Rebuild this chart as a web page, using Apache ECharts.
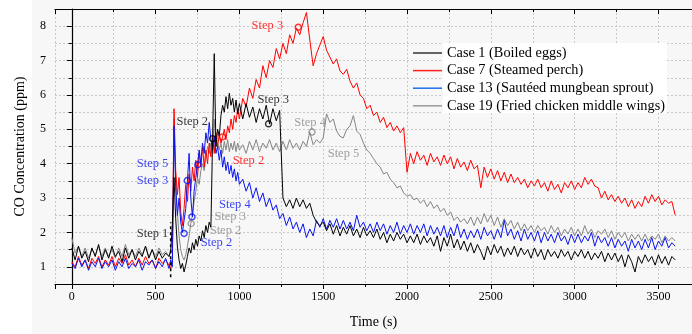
<!DOCTYPE html>
<html>
<head>
<meta charset="utf-8">
<script src="https://cdn.jsdelivr.net/npm/echarts@6/dist/echarts.min.js"></script>
<style>html,body{margin:0;padding:0;background:#fff}#c{width:692px;height:334px}</style>
</head>
<body>
<div id="c"></div>
<script>
// ---- data (time in s, CO in ppm) ----
const timeSec = [
0,20,40,60,80,100,120,140,160,180,
200,220,240,260,280,300,320,340,360,380,
400,420,440,460,480,500,520,540,560,
580,590,600,610,620,630,640,650,660,670,
680,690,700,710,720,730,740,750,760,770,
780,790,800,810,820,830,840,850,860,870,
880,890,900,910,920,930,940,950,960,970,
980,990,1000,
1020,1040,1060,1080,1100,1120,1140,1160,1180,1200,
1220,1240,1260,1280,1300,1320,1340,1360,1380,1400,
1420,1440,1460,1480,1500,1520,1540,1560,1580,1600,
1620,1640,1660,1680,1700,1720,1740,1760,1780,1800,
1820,1840,1860,1880,1900,1920,1940,1960,1980,2000,
2020,2040,2060,2080,2100,2120,2140,2160,2180,2200,
2220,2240,2260,2280,2300,2320,2340,2360,2380,2400,
2420,2440,2460,2480,2500,2520,2540,2560,2580,2600,
2620,2640,2660,2680,2700,2720,2740,2760,2780,2800,
2820,2840,2860,2880,2900,2920,2940,2960,2980,3000,
3020,3040,3060,3080,3100,3120,3140,3160,3180,3200,
3220,3240,3260,3280,3300,3320,3340,3360,3380,3400,
3420,3440,3460,3480,3500,3520,3540,3560,3580,3600
];

const case1Boiled = [
1.55,1.2,1.6,1.25,1.45,1.15,1.55,1.3,1.65,1.2,
1.5,1.25,1.6,1.3,1.45,1.15,1.55,1.25,1.5,1.2,
1.45,1.3,1.6,1.25,1.5,1.2,1.45,1.25,1.4,
1.3,1.45,2.2,3.6,2.4,1.6,1.2,0.95,1.1,0.85,
1.05,1.3,1.55,1.4,1.7,1.5,1.8,1.6,1.9,1.75,
2.05,1.85,2.2,2.0,2.3,2.15,4.7,7.2,4.5,5.0,
4.8,5.4,5.7,5.5,5.95,5.6,6.05,5.7,5.9,5.5,
5.85,5.45,5.75,
5.3,5.75,5.35,5.65,5.2,5.6,5.3,5.7,5.15,5.6,
5.25,5.55,3.0,2.75,2.95,2.7,3.0,2.75,2.95,2.7,
2.85,2.5,2.3,2.2,2.3,2.05,2.25,1.95,2.2,1.9,
2.15,1.95,2.2,1.9,2.1,1.85,2.15,1.9,2.05,1.85,
2.1,1.8,2.0,1.7,1.95,1.75,2.0,1.8,1.95,1.7,
1.9,1.7,1.95,1.65,1.9,1.7,1.85,1.6,1.9,1.45,
1.85,1.6,1.95,1.55,1.8,1.5,1.75,1.45,1.7,1.4,
1.65,1.45,1.2,1.6,1.35,1.65,1.4,1.6,1.3,1.55,
1.35,1.6,1.3,1.55,1.35,1.5,1.25,1.55,1.3,1.5,
1.2,1.5,1.3,1.45,1.25,1.5,1.3,1.45,1.2,1.45,
1.3,1.5,1.25,1.45,1.2,1.4,1.25,1.45,1.15,1.4,
1.2,1.4,1.15,1.35,1.0,1.35,1.15,0.85,1.3,1.1,
1.35,1.15,1.3,1.05,1.35,1.1,1.3,1.05,1.3,1.2
];

const case7Perch = [
1.15,1.0,1.3,1.05,1.2,0.95,1.25,1.1,1.3,1.0,
1.2,1.05,1.3,1.0,1.25,1.1,1.35,1.05,1.2,1.0,
1.25,1.05,1.3,1.1,1.2,0.95,1.25,1.1,1.2,
1.05,0.95,1.2,5.6,3.8,3.1,3.6,2.6,2.2,2.7,
3.4,2.9,3.7,3.2,3.9,3.5,4.1,3.6,4.3,3.9,
4.5,3.9,4.4,4.0,4.6,4.2,4.8,4.3,4.9,4.5,
4.85,4.6,4.78,5.0,4.7,5.1,4.9,5.3,5.0,5.4,
5.2,5.6,5.3,
5.9,5.65,6.2,5.9,6.45,6.2,6.85,6.5,7.0,6.8,
7.35,7.05,7.5,7.2,7.75,7.5,7.95,7.75,8.1,8.4,
7.6,6.85,7.2,7.45,7.7,7.3,7.1,6.9,7.05,6.7,
6.6,6.75,6.4,6.2,6.35,6.0,5.9,5.6,5.7,5.4,
5.5,5.2,5.35,5.05,5.2,4.95,5.1,4.9,5.05,3.75,
4.3,4.0,4.35,4.1,4.25,3.95,4.3,4.05,4.2,3.95,
4.25,4.0,4.2,3.85,4.15,3.9,4.05,3.8,4.1,3.85,
3.95,3.3,3.9,3.6,3.85,3.55,3.8,3.5,3.75,3.45,
3.7,3.45,3.6,3.4,3.55,3.3,3.5,3.35,3.55,3.3,
3.45,3.2,3.5,3.25,3.4,3.15,3.45,3.3,3.5,3.25,
3.45,3.3,3.6,3.4,3.55,3.35,3.3,3.0,3.2,2.95,
3.1,2.9,3.05,2.85,3.0,2.75,2.95,2.7,2.9,2.75,
3.05,2.85,3.1,2.9,3.05,2.8,2.95,2.85,2.9,2.5
];

const case13Mungbean = [
1.1,0.95,1.25,1.0,1.2,0.9,1.15,1.0,1.25,0.95,
1.15,1.0,1.2,0.9,1.15,1.0,1.25,0.95,1.1,1.0,
1.2,0.9,1.15,1.05,1.2,0.95,1.15,1.0,1.25,
0.95,1.2,1.0,5.1,3.3,2.5,3.0,2.3,2.0,1.97,
2.7,3.5,4.3,3.0,2.45,3.2,3.6,3.97,4.4,4.0,
4.6,4.3,4.9,4.6,5.2,4.7,4.4,4.8,4.3,4.5,
4.1,4.4,3.9,4.2,3.8,4.05,3.7,3.95,3.6,3.85,
3.5,3.75,3.4,
3.55,3.2,3.45,3.0,3.3,2.9,3.15,2.75,3.0,2.65,
2.8,2.4,2.55,2.2,2.45,2.1,2.3,2.0,2.25,1.85,
2.1,1.9,2.35,2.15,2.4,2.1,2.35,2.15,2.4,2.1,
2.35,2.1,2.3,2.05,2.5,2.15,2.3,2.05,2.25,2.0,
2.3,2.05,2.25,1.95,2.2,2.0,2.3,1.95,2.2,2.0,
2.25,1.95,2.2,2.0,2.25,1.9,2.2,1.95,2.15,1.9,
2.2,1.85,2.15,1.9,2.25,1.85,2.1,1.8,2.05,1.85,
2.1,1.8,2.15,1.9,2.05,1.8,2.1,1.85,2.35,1.9,
2.1,1.8,2.05,1.75,2.1,1.8,2.0,1.75,2.05,1.7,
2.0,1.75,1.95,1.7,2.0,1.75,1.9,1.65,1.95,1.7,
1.95,1.7,1.9,1.75,2.0,1.6,1.9,1.7,1.85,1.6,
1.85,1.55,1.8,1.6,1.75,1.45,1.8,1.55,1.75,1.5,
1.8,1.55,1.85,1.5,1.75,1.6,1.85,1.55,1.7,1.6
];

const case19Wings = [
1.85,1.4,1.6,1.3,1.55,1.25,1.5,1.35,1.6,1.3,
1.55,1.3,1.5,1.25,1.55,1.3,1.65,1.35,1.5,1.3,
1.55,1.35,1.6,1.3,1.5,1.3,1.55,1.35,1.45,
1.3,1.5,1.4,5.3,3.5,2.6,1.9,1.5,1.3,1.2,
1.35,1.6,1.9,2.26,2.5,2.9,3.2,3.6,3.4,3.8,
4.0,3.8,4.2,4.5,4.3,4.6,4.4,5.3,4.5,4.6,
4.4,4.6,4.3,4.65,4.4,4.7,4.35,4.6,4.4,4.65,
4.35,4.6,4.4,
4.55,4.3,4.65,4.4,4.7,4.35,4.6,4.45,4.7,4.4,
4.6,4.35,4.65,4.4,4.7,4.45,4.6,4.4,4.65,4.5,
4.92,4.55,4.7,4.6,4.75,5.45,5.2,5.3,4.95,4.8,
4.75,5.0,5.1,5.4,4.95,4.85,4.6,4.4,4.3,4.15,
4.0,3.9,3.7,3.75,3.55,3.45,3.3,3.35,3.15,3.05,
3.1,2.95,3.0,2.85,2.95,2.75,2.9,2.7,2.8,2.6,
2.7,2.5,2.6,2.35,2.45,2.3,2.4,2.25,2.45,2.2,
2.45,2.25,2.55,2.3,2.5,2.2,2.45,2.15,2.4,2.2,
2.35,2.1,2.3,2.05,2.25,2.05,2.2,2.0,2.2,2.05,
2.15,1.95,2.2,2.0,2.15,1.9,2.1,1.95,2.15,1.9,
2.1,1.9,2.2,1.95,2.1,1.85,2.05,1.95,2.1,1.85,
2.05,1.8,2.0,1.85,2.0,1.75,1.95,1.8,1.95,1.75,
1.95,1.75,1.9,1.8,1.95,1.7,1.9,1.75,1.85,1.75
];

const seriesNames = ['Case 1 (Boiled eggs)', 'Case 7 (Steamed perch)', 'Case 13 (Sautéed mungbean sprout)', 'Case 19 (Fried chicken middle wings)'];

// step markers (time, ppm)
const stepMarkCase1 = [[840, 4.73], [1174, 5.16]];
const stepMarkCase7 = [[899, 4.78], [1351, 7.97]];
const stepMarkCase13 = [[670, 1.97], [689, 3.51], [717, 2.45], [752, 3.97]];
const stepMarkCase19 = [[712, 2.26], [1433, 4.92]];
const step1LineCase1 = [[590, 0.7], [590, 2.3]];

// step annotations (time, ppm, text)
const stepTextCase1 = [[482, 1.97, 'Step 1'], [719, 5.21, 'Step 2'], [1202, 5.86, 'Step 3']];
const stepTextCase7 = [[1167, 8.0, 'Step 3'], [1054, 4.09, 'Step 2']];
const stepTextCase13 = [[482, 3.99, 'Step 5'], [482, 3.51, 'Step 3'], [973, 2.81, 'Step 4'], [863, 1.69, 'Step 2']];
const stepTextCase19 = [[945, 2.47, 'Step 3'], [917, 2.04, 'Step 2'], [1422, 5.18, 'Step 4'], [1621, 4.3, 'Step 5']];

// ---- chart ----
const FONT = 'Liberation Serif';
const colors = ['#000000', '#ff0000', '#0a14f0', '#858585'];
const legendColors = ['#333333', '#ff2020', '#1a70f0', '#9a9a9a'];
const zs = [6, 4, 5, 3];
const vals = [case1Boiled, case7Perch, case13Mungbean, case19Wings];
const marks = [stepMarkCase1, stepMarkCase7, stepMarkCase13, stepMarkCase19];
const texts = [stepTextCase1, stepTextCase7, stepTextCase13, stepTextCase19];

const pair = v => timeSec.map((t, i) => [t, v[i]]);

const series = [];
vals.forEach((v, k) => {
  series.push({
    name: seriesNames[k], type: 'line', data: pair(v), showSymbol: false, symbol: 'none',
    sampling: null, z: zs[k], color: legendColors[k],
    lineStyle: { color: colors[k], width: 1 }
  });
});
series.push({
  type: 'line', data: step1LineCase1, showSymbol: false, symbol: 'none', z: 6,
  lineStyle: { color: '#000', width: 1.5, type: [3, 3] }
});
marks.forEach((m, k) => {
  series.push({
    type: 'scatter', data: m, symbol: 'circle', symbolSize: 6, z: 7,
    itemStyle: { color: 'rgba(0,0,0,0)', borderColor: colors[k], borderWidth: 1.4 }
  });
});
texts.forEach((tx, k) => {
  series.push({
    type: 'scatter', data: tx, symbolSize: 0, z: 8,
    label: { show: true, position: 'inside', formatter: p => p.value[2],
      color: colors[k] === '#858585' ? '#8a8a8a' : colors[k], fontFamily: FONT, fontSize: 12.5 }
  });
});

const gridLine = { show: true, lineStyle: { color: '#c9c9c9', type: [2, 2], width: 1 } };
const axisLineStyle = { show: true, lineStyle: { color: '#000', width: 1.2 } };

const chart = echarts.init(document.getElementById('c'), null, { renderer: 'canvas' });
chart.setOption({
  animation: false,
  backgroundColor: '#ffffff',
  graphic: [
    { type: 'rect', z: -10, silent: true, shape: { x: 32, y: 0, width: 660, height: 334 }, style: { fill: '#f7f7f7' } },
    { type: 'rect', z: 3, silent: true, shape: { x: 443, y: 43, width: 224, height: 70 }, style: { fill: '#ffffff' } }
  ],
  grid: { left: 55, top: 9, width: 645.4, height: 281, containLabel: false },
  legend: {
    data: seriesNames, orient: 'vertical', left: 413, top: 46, padding: 0,
    icon: 'rect', itemWidth: 29, itemHeight: 1.5, itemGap: 3.6, z: 4,
    textStyle: { fontFamily: FONT, fontSize: 14.3, color: '#000' }
  },
  xAxis: [{
    type: 'value', min: -100, max: 3700, splitNumber: 8, position: 'bottom',
    name: 'Time (s)', nameLocation: 'middle', nameGap: 31,
    nameTextStyle: { fontFamily: FONT, fontSize: 14, color: '#000' },
    axisLine: axisLineStyle,
    axisTick: { show: true, inside: false, length: 5, lineStyle: { color: '#000', width: 1 } },
    minorTick: { show: true, splitNumber: 2, length: 3, lineStyle: { color: '#000', width: 1 } },
    axisLabel: { fontFamily: FONT, fontSize: 12, color: '#000', margin: 7, showMinLabel: false, showMaxLabel: false,
      formatter: v => String(v) },
    splitLine: gridLine, minorSplitLine: gridLine
  }, {
    type: 'value', min: -100, max: 3700, splitNumber: 8, position: 'top',
    axisLine: axisLineStyle,
    axisTick: { show: true, inside: true, length: 5, lineStyle: { color: '#000', width: 1 } },
    minorTick: { show: true, splitNumber: 2, length: 3, lineStyle: { color: '#000', width: 1 } },
    axisLabel: { show: false }, splitLine: { show: false }
  }],
  yAxis: {
    type: 'value', min: 0.5, max: 8.5, splitNumber: 8,
    name: 'CO Concentration (ppm)', nameLocation: 'middle', nameGap: 28,
    nameTextStyle: { fontFamily: FONT, fontSize: 14, color: '#000' },
    axisLine: axisLineStyle,
    axisTick: { show: true, inside: false, length: 5, lineStyle: { color: '#000', width: 1 } },
    minorTick: { show: true, splitNumber: 2, length: 3, lineStyle: { color: '#000', width: 1 } },
    axisLabel: { fontFamily: FONT, fontSize: 12, color: '#000', margin: 9, showMinLabel: false, showMaxLabel: false,
      formatter: v => String(v) },
    splitLine: gridLine, minorSplitLine: gridLine
  },
  series: series
});
</script>
</body>
</html>
